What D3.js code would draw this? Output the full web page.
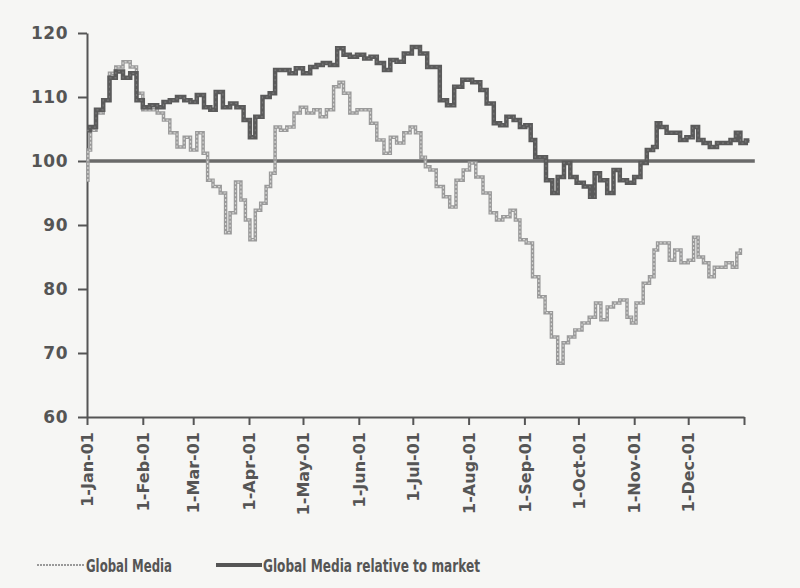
<!DOCTYPE html>
<html>
<head>
<meta charset="utf-8">
<script src="https://cdn.jsdelivr.net/npm/d3@7"></script>
<style>
  body { margin: 0; background: #f6f6f4; }
  svg { display: block; }
  .axis path, .axis line { stroke: #555; stroke-width: 2; }
  .axis text { fill: #555; font-family: "DejaVu Sans", Verdana, sans-serif; font-weight: bold; }
</style>
</head>
<body>
<svg id="chart" width="800" height="588"></svg>
<script>
// day of year (from 1-Jan-01) and index level
let mediaDays = [0,1,3,7,11,14,18,22,26,29,33,37,41,44,48,52,56,59,63,66,68,72,76,78,81,84,87,89,92,95,98,101,103,106,109,113,117,120,124,128,131,135,139,141,144,148,152,156,159,163,167,170,174,178,181,184,187,189,192,196,200,203,207,211,214,218,222,226,229,233,237,239,242,246,249,253,256,260,263,266,269,273,277,281,284,287,291,294,298,302,303,307,311,314,316,318,322,325,328,332,336,338,341,344,347,350,353,357,360,362,364];
let mediaValues = [97,101.7,104.8,107.5,109.5,113.7,114.7,115.5,114.7,110.6,108,108,107.5,106.4,104.4,102.2,103.7,101.7,104.4,101.2,97,96,95,88.8,91.9,96.7,93.9,90.8,87.7,92.3,93.4,96,98.1,105.3,104.8,105.3,107.5,108.4,107.5,108,106.9,108,111.6,112.3,110.6,107.5,108,108,105.9,103.3,101.2,103.7,102.8,104.4,105.3,104.4,100.6,99.1,98.6,96,94.4,92.8,97,98.6,99.7,97.5,95,91.9,90.8,91.3,92.3,90.8,87.7,87.2,81.9,78.8,76.3,72.5,68.4,71.6,72.5,73.6,74.7,75.6,77.8,75.2,77.2,77.8,78.3,75.6,74.7,77.8,80.9,81.9,86.1,87.2,87.2,84.5,86.1,84.1,84.5,88.1,85,84.1,81.9,83.4,83.4,84.1,83.4,85.6,86.1];

let relDays = [0,3,7,11,14,18,22,26,29,33,37,41,44,48,52,56,59,63,67,70,73,78,81,85,89,92,95,100,103,106,111,114,118,122,126,129,133,137,141,144,148,152,156,159,163,167,170,174,178,183,187,191,194,198,202,206,211,217,220,224,228,231,235,239,242,245,248,250,253,257,260,263,267,270,274,278,281,283,287,291,294,298,302,306,309,313,316,317,320,324,328,331,335,338,341,344,348,352,356,359,362,364,368];
let relValues = [104.8,105.3,108,109.5,113,114,113,113.7,109.5,108.4,108.7,108.4,109.2,109.5,110,109.5,109.2,110.3,108.4,108,110.8,108.4,109,108.4,106.4,103.7,106.9,110,110.6,114.2,114.2,113.7,114.5,113.7,114.7,115,115.3,115,117.6,116.6,116.3,116.6,116,116.3,115.3,114.2,115.8,115.5,116.8,117.8,116.8,114.7,114.7,109.5,108.7,111.6,112.7,112.3,111.1,109,105.9,105.6,106.9,106.4,105.3,105.6,103.3,100.6,100.6,97,95,97.5,99.7,97.5,96.6,96,94.4,98.1,97,95,98.6,97,96.6,97.5,99.7,101.7,102.2,105.9,105.3,104.4,104.4,103.3,103.7,105.3,103.3,102.8,102.2,102.8,102.8,103.3,104.4,102.8,103.2];

let baseLevel = 100;
let yTicks = [60,70,80,90,100,110,120];
let seriesNames = ['Global Media', 'Global Media relative to market'];

let margin = {top: 33, left: 87, right: 56, bottom: 171};
let svgWidth = 800, svgHeight = 588;
let width = svgWidth - margin.left - margin.right;
let height = svgHeight - margin.top - margin.bottom;

let start = new Date(2001, 0, 1);
let end = new Date(2002, 0, 1);
let toDate = d => d3.timeDay.offset(start, d);

let xScale = d3.scaleTime().domain([start, end]).range([0, width]);
let yScale = d3.scaleLinear().domain([60, 120]).range([height, 0]);

let svg = d3.select('#chart').append('g').attr('transform', `translate(${margin.left},${margin.top})`);

// axes
let fmt = d3.timeFormat('%-d-%b-%y');
let xAxis = svg.append('g')
    .attr('class', 'axis')
    .attr('transform', `translate(0,${height})`)
    .call(d3.axisBottom(xScale)
        .tickValues(d3.timeMonth.range(start, d3.timeDay.offset(end, 1)))
        .tickSize(8)
        .tickSizeOuter(0)
        .tickFormat(d => d < end ? fmt(d) : ''));
xAxis.selectAll('text')
    .attr('font-size', '16px')
    .attr('text-anchor', 'end')
    .attr('transform', 'rotate(-90)')
    .attr('x', -15)
    .attr('y', 0)
    .attr('dy', '0.36em');

let yAxis = svg.append('g')
    .attr('class', 'axis')
    .call(d3.axisLeft(yScale).tickValues(yTicks).tickSize(9).tickSizeOuter(0).tickPadding(10));
yAxis.selectAll('text').attr('font-size', '17px').attr('letter-spacing', '0.5px');

// 100 line
svg.append('line')
    .attr('x1', xScale(start))
    .attr('x2', xScale(toDate(371)))
    .attr('y1', yScale(baseLevel))
    .attr('y2', yScale(baseLevel))
    .attr('stroke', '#6a6a6a')
    .attr('stroke-width', 3.5);

let line = d3.line().curve(d3.curveStep).x(d => xScale(toDate(d[0]))).y(d => yScale(d[1]));
let media = d3.zip(mediaDays, mediaValues);
let rel = d3.zip(relDays, relValues);

// Global Media: light hollow-looking line
svg.append('path').datum(media).attr('d', line)
    .attr('fill', 'none').attr('stroke', '#9a9a9a').attr('stroke-width', 3.5);
svg.append('path').datum(media).attr('d', line)
    .attr('fill', 'none').attr('stroke', '#d6d6d4').attr('stroke-width', 1.2)
    .attr('stroke-dasharray', '2,2');

// relative to market: dark thick line
svg.append('path').datum(rel).attr('d', line)
    .attr('fill', 'none').attr('stroke', '#5a5a5a').attr('stroke-width', 4.5);
svg.append('path').datum(rel).attr('d', line)
    .attr('fill', 'none').attr('stroke', '#777').attr('stroke-width', 1.2)
    .attr('stroke-dasharray', '2,3');

// legend
let legend = d3.select('#chart').append('g').attr('transform', 'translate(0,565)');
legend.append('line').attr('x1', 37).attr('x2', 85).attr('y1', 0).attr('y2', 0)
    .attr('stroke', '#999').attr('stroke-width', 2).attr('stroke-dasharray', '2,1');
legend.append('text').attr('x', 86).attr('y', 7).text(seriesNames[0])
    .attr('font-family', '"DejaVu Sans", sans-serif').attr('font-weight', 'bold')
    .attr('font-size', '18px').attr('fill', '#555')
    .attr('textLength', 86).attr('lengthAdjust', 'spacingAndGlyphs');
legend.append('line').attr('x1', 216).attr('x2', 262).attr('y1', 0).attr('y2', 0)
    .attr('stroke', '#555').attr('stroke-width', 4);
legend.append('text').attr('x', 263).attr('y', 7).text(seriesNames[1])
    .attr('font-family', '"DejaVu Sans", sans-serif').attr('font-weight', 'bold')
    .attr('font-size', '18px').attr('fill', '#555')
    .attr('textLength', 217).attr('lengthAdjust', 'spacingAndGlyphs');
</script>
</body>
</html>
